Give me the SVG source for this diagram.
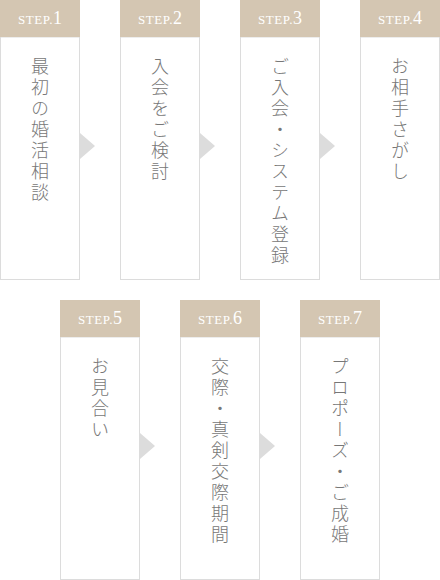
<svg xmlns="http://www.w3.org/2000/svg" width="440" height="580" viewBox="0 0 440 580">
<style>
.hd{fill:#d4c6b2}
.bd{fill:#fff;stroke:#dcdcdc;stroke-width:1}
.st{font-family:"Liberation Serif",serif;fill:#fff;font-size:13px;letter-spacing:0.6px}
.st .n{font-size:18px;letter-spacing:0}
.vt{font-family:"Noto Sans CJK JP","Noto Sans",sans-serif;font-size:18px;fill:#777;writing-mode:vertical-rl;letter-spacing:3px;font-weight:300}
.ar{fill:#dcdcdc}
</style>
<rect width="440" height="580" fill="#fff"/>
<g id="step1">
<rect class="bd" x="0.5" y="37" width="79" height="242.5"/>
<rect class="hd" x="0" y="0" width="80" height="37"/>
<text class="st" x="40" y="24" text-anchor="middle">STEP.<tspan class="n">1</tspan></text>
<text class="vt" x="40" y="57">最初の婚活相談</text>
</g>
<g id="step2">
<rect class="bd" x="120.5" y="37" width="79" height="242.5"/>
<rect class="hd" x="120" y="0" width="80" height="37"/>
<text class="st" x="160" y="24" text-anchor="middle">STEP.<tspan class="n">2</tspan></text>
<text class="vt" x="160" y="57">入会をご検討</text>
</g>
<g id="step3">
<rect class="bd" x="240.5" y="37" width="79" height="242.5"/>
<rect class="hd" x="240" y="0" width="80" height="37"/>
<text class="st" x="280" y="24" text-anchor="middle">STEP.<tspan class="n">3</tspan></text>
<text class="vt" x="280" y="57">ご入会・システム登録</text>
</g>
<g id="step4">
<rect class="bd" x="360.5" y="37" width="79" height="242.5"/>
<rect class="hd" x="360" y="0" width="80" height="37"/>
<text class="st" x="400" y="24" text-anchor="middle">STEP.<tspan class="n">4</tspan></text>
<text class="vt" x="400" y="57">お相手さがし</text>
</g>
<g id="step5">
<rect class="bd" x="60.5" y="337" width="79" height="242.5"/>
<rect class="hd" x="60" y="300" width="80" height="37"/>
<text class="st" x="100" y="324" text-anchor="middle">STEP.<tspan class="n">5</tspan></text>
<text class="vt" x="100" y="357">お見合い</text>
</g>
<g id="step6">
<rect class="bd" x="180.5" y="337" width="79" height="242.5"/>
<rect class="hd" x="180" y="300" width="80" height="37"/>
<text class="st" x="220" y="324" text-anchor="middle">STEP.<tspan class="n">6</tspan></text>
<text class="vt" x="220" y="357">交際・真剣交際期間</text>
</g>
<g id="step7">
<rect class="bd" x="300.5" y="337" width="79" height="242.5"/>
<rect class="hd" x="300" y="300" width="80" height="37"/>
<text class="st" x="340" y="324" text-anchor="middle">STEP.<tspan class="n">7</tspan></text>
<text class="vt" x="340" y="357">プロポーズ・ご成婚</text>
</g>
<g id="connectors">
<polygon class="ar" points="80,133 95,146 80,159"/>
<polygon class="ar" points="200,133 215,146 200,159"/>
<polygon class="ar" points="320,133 335,146 320,159"/>
<polygon class="ar" points="140,433 155,446 140,459"/>
<polygon class="ar" points="260,433 275,446 260,459"/>
</g>
</svg>
